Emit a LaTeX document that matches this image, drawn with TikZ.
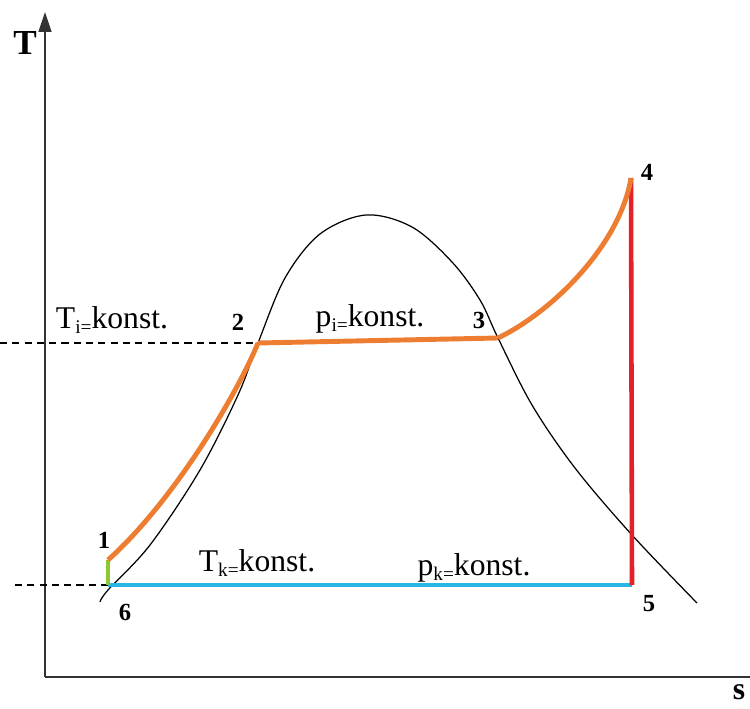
\documentclass[tikz,border=0pt]{standalone}
\usepackage{fontspec}
\setmainfont{Liberation Serif}
\usetikzlibrary{arrows.meta}
\definecolor{heatorange}{RGB}{237,125,49}
\definecolor{expandred}{RGB}{228,32,40}
\definecolor{condblue}{RGB}{40,182,228}
\definecolor{pumpgreen}{RGB}{140,200,50}
\newcommand{\lowidx}[1]{\raisebox{-0.35ex}{\fontsize{11}{12}\selectfont #1}}
\tikzset{
    axis/.style={line width=0.8pt, black!80},
    dome/.style={line width=0.7pt, black},
    guide/.style={dashed, line width=0.6pt, dash pattern=on 4pt off 3pt},
    heating/.style={line width=2.8pt, heatorange},
    expansion/.style={line width=2.6pt, expandred},
    condensing/.style={line width=2.5pt, condblue},
    pumping/.style={line width=2.6pt, pumpgreen},
    statelabel/.style={font=\fontsize{14}{16}\selectfont\bfseries, inner sep=1pt},
    isolabel/.style={font=\fontsize{18}{20}\selectfont, inner sep=1pt}
}
\begin{document}
\begin{tikzpicture}[x=0.02cm, y=-0.02cm]
    \useasboundingbox (0,0) rectangle (750,709);
    \coordinate (origin) at (45,677);
    \coordinate (ytip) at (45,12);
    \coordinate (xend) at (752,677);
    \coordinate (p1) at (108,560);
    \coordinate (p2) at (258,343);
    \coordinate (p3) at (498,338);
    \coordinate (p4) at (631,178);
    \coordinate (p5) at (632,585);
    \coordinate (p6) at (108,585);
    \coordinate (ti-start) at (0,343);
    \coordinate (tk-start) at (15,585);

    \draw[axis, -{Triangle[length=4mm, width=2.6mm]}] (origin) -- (ytip);
    \draw[axis] (origin) -- (xend);
    \node[font=\fontsize{20}{22}\selectfont\bfseries] (t-axis) at (25,43) {T};
    \node[font=\fontsize{18}{20}\selectfont\bfseries, inner sep=1pt] (s-axis) at (739,692) {s};

    \draw[guide] (ti-start) -- (p2);
    \draw[guide] (tk-start) -- (p6);

    \draw[dome] plot[smooth, tension=0.55] coordinates {(100,602) (108,590) (150,545)
        (200,470) (238,395) (258,343) (285,278) (320,234) (366,215) (412,227)
        (452,262) (480,300) (498,338) (532,405) (575,468) (632,535) (697,603)};

    \draw[condensing] (p6) -- (p5);
    \draw[expansion] (p5) -- (p4);
    \draw[pumping] (p6) -- (p1);
    \draw[heating] (p1) .. controls (175,500) and (238,392) .. (p2);
    \draw[heating] (p2) -- (p3);
    \draw[heating] (p3) .. controls (552,312) and (620,245) .. (p4);

    \node[isolabel] (ti-label) at (112,320) {T\lowidx{i=}konst.};
    \node[isolabel] (pi-label) at (370,319) {p\lowidx{i=}konst.};
    \node[isolabel] (tk-label) at (257,563) {T\lowidx{k=}konst.};
    \node[isolabel] (pk-label) at (474,568) {p\lowidx{k=}konst.};

    \node[statelabel] (n1) at (104,540) {1};
    \node[statelabel] (n2) at (238,322) {2};
    \node[statelabel] (n3) at (479,320) {3};
    \node[statelabel] (n4) at (647,172) {4};
    \node[statelabel] (n5) at (649,604) {5};
    \node[statelabel] (n6) at (125,612) {6};
\end{tikzpicture}
\end{document}
